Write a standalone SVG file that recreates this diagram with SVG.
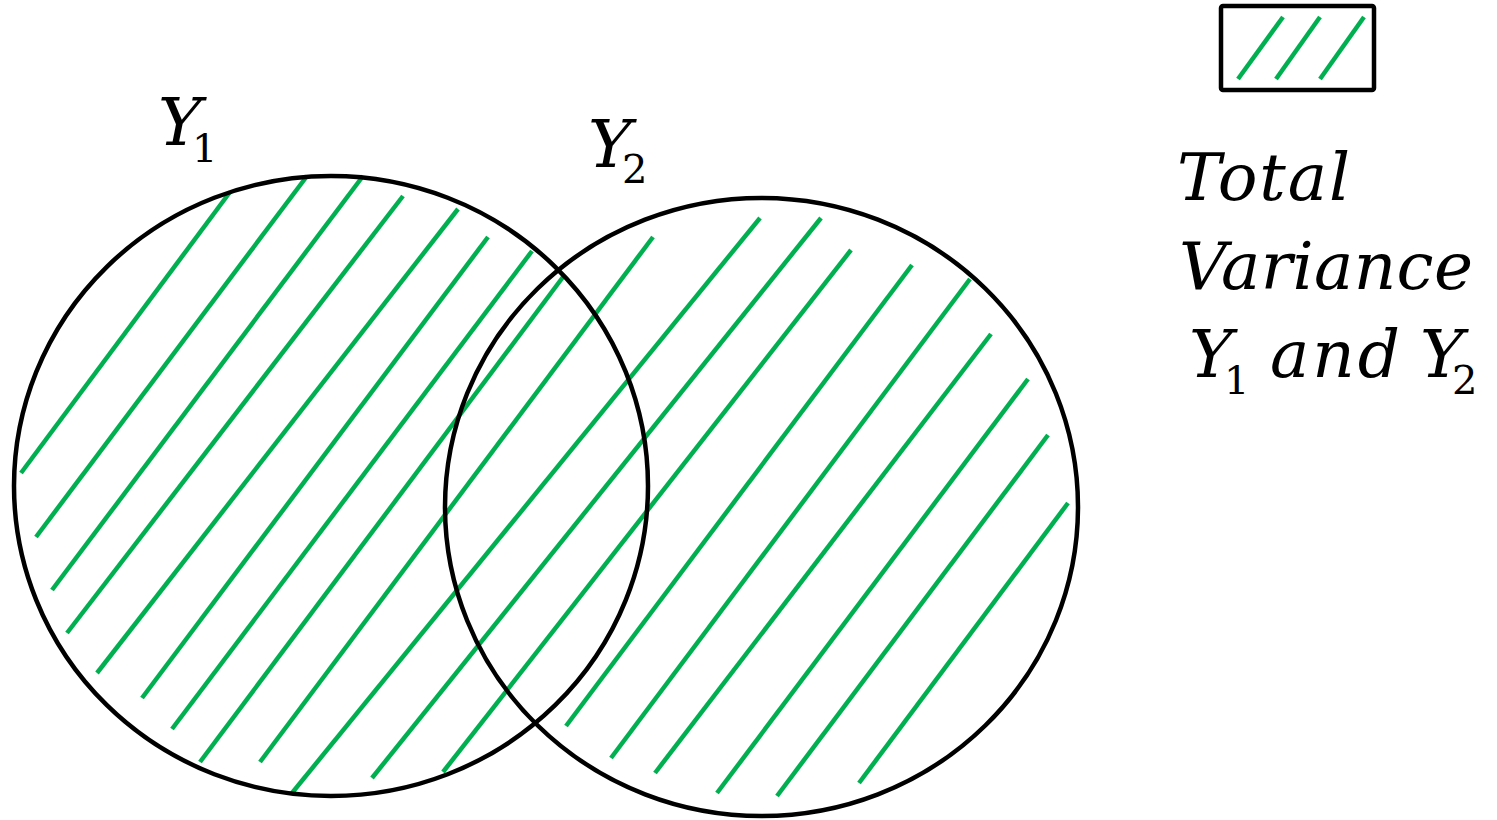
<svg xmlns="http://www.w3.org/2000/svg" width="1497" height="820" viewBox="0 0 1497 820">
<style>
.circ{fill:none;stroke:#000;stroke-width:4.5}
.hatch line{stroke:#00B050;stroke-width:4.5;stroke-linecap:butt}
.lbl{font-family:"DejaVu Serif","Liberation Serif",serif;font-style:italic;fill:#000}
.sub{font-family:"DejaVu Serif","Liberation Serif",serif;font-style:normal;fill:#000}
</style>
<rect width="1497" height="820" fill="#fff"/>
<g id="hatching" class="hatch">
<line x1="230" y1="192" x2="21" y2="473"/>
<line x1="307" y1="176" x2="36" y2="537"/>
<line x1="363" y1="176" x2="52" y2="590"/>
<line x1="403" y1="196" x2="67" y2="633"/>
<line x1="458" y1="209" x2="97" y2="673"/>
<line x1="488" y1="237" x2="142" y2="698"/>
<line x1="532" y1="251" x2="172" y2="729"/>
<line x1="563" y1="277" x2="200" y2="762"/>
<line x1="653" y1="237" x2="260" y2="762"/>
<line x1="760" y1="218" x2="292" y2="793"/>
<line x1="821" y1="218" x2="372" y2="778"/>
<line x1="851" y1="250" x2="443" y2="772"/>
<line x1="912" y1="265" x2="566" y2="726"/>
<line x1="970" y1="279" x2="611" y2="758"/>
<line x1="991" y1="334" x2="655" y2="773"/>
<line x1="1028" y1="379" x2="717" y2="793"/>
<line x1="1048" y1="435" x2="777" y2="796"/>
<line x1="1068" y1="503" x2="859" y2="783"/>
</g>
<g id="circle-y1">
<ellipse class="circ" cx="331" cy="486" rx="317" ry="310"/>
<text class="lbl" x="158" y="145" font-size="66">Y</text>
<text class="sub" x="192" y="162" font-size="40">1</text>
</g>
<g id="circle-y2">
<ellipse class="circ" cx="761.5" cy="507" rx="316.5" ry="309"/>
<text class="lbl" x="588" y="167" font-size="66">Y</text>
<text class="sub" x="622" y="183" font-size="40">2</text>
</g>
<g id="legend">
<rect x="1221" y="6" width="153" height="84" rx="2" fill="#fff" stroke="#000" stroke-width="4.5"/>
<g class="hatch">
<line x1="1283" y1="17" x2="1238" y2="79"/>
<line x1="1320" y1="17" x2="1276" y2="79"/>
<line x1="1364" y1="17" x2="1320" y2="79"/>
</g>
<text class="lbl" x="1177" y="200" font-size="66" textLength="173" lengthAdjust="spacing">Total</text>
<text class="lbl" x="1179" y="289" font-size="66" textLength="294" lengthAdjust="spacing">Variance</text>
<text class="lbl" x="1189" y="377" font-size="66">Y</text>
<text class="sub" x="1224" y="394" font-size="40">1</text>
<text class="lbl" x="1270" y="377" font-size="66" textLength="130" lengthAdjust="spacing">and</text>
<text class="lbl" x="1420" y="377" font-size="66">Y</text>
<text class="sub" x="1452" y="394" font-size="40">2</text>
</g>
</svg>
